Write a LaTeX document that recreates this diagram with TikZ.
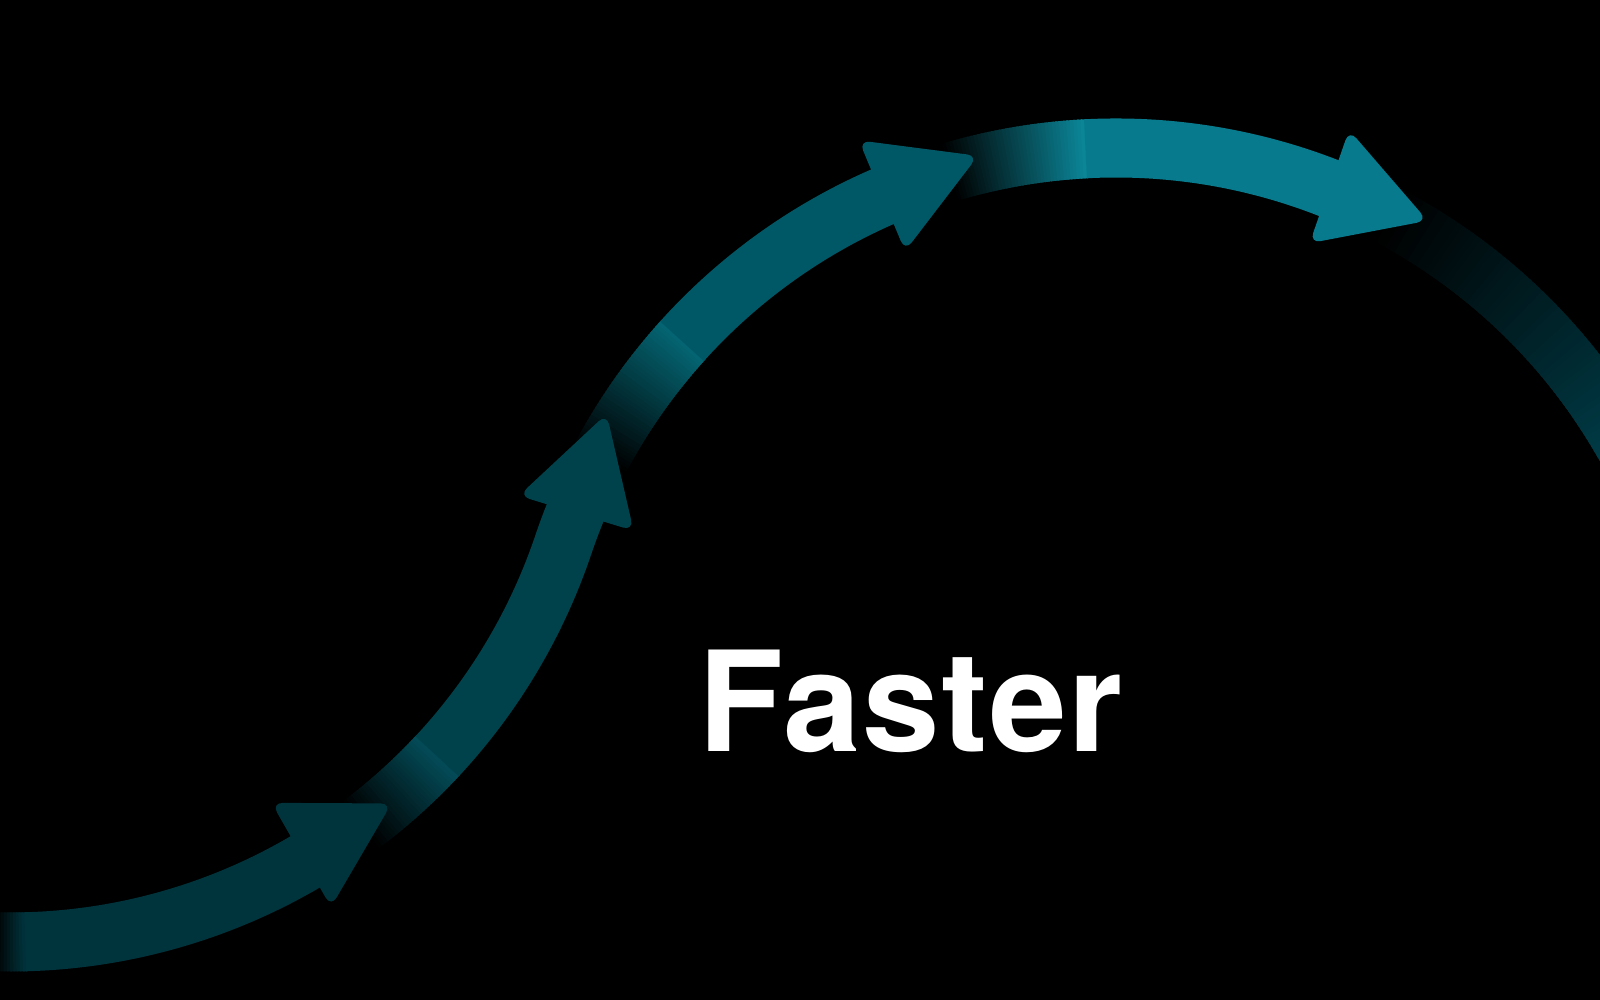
\documentclass[tikz,border=0pt]{standalone}
\usepackage{fontspec}
\setmainfont{TeX Gyre Heros}
\definecolor{segA}{HTML}{00343D}
\definecolor{segB}{HTML}{00424C}
\definecolor{segBhi}{HTML}{034C58}
\definecolor{segC}{HTML}{005866}
\definecolor{segChi}{HTML}{046573}
\definecolor{segD}{HTML}{077B8D}
\definecolor{segDhi}{HTML}{0B8799}
\definecolor{segE}{HTML}{003A45}
\def\R{584}
\newcommand{\fadeseg}[5]{%
  \foreach \ii in {1,...,#5}{%
    \pgfmathsetmacro\aa{#2+(#3-#2)*(\ii-1)/#5}%
    \pgfmathsetmacro\bb{#2+(#3-#2)*(\ii+0.6)/#5}%
    \pgfmathtruncatemacro\pp{round(100*(\ii-0.5)/#5)}%
    \draw[shaft, color=#4!\pp!black] (#1) ++(\aa:\R) arc[start angle=\aa, end angle=\bb, radius=\R];
  }}
\begin{document}
\begin{tikzpicture}[x=0.01cm,y=0.01cm,
  shaft/.style={line width=0.59cm, line cap=butt},
  head/.style={rounded corners=0.11cm}]
\useasboundingbox (0,0) rectangle (1600,1000);
\fill[black] (0,0) rectangle (1600,1000);
\clip (0,0) rectangle (1600,1000);
\coordinate (C1) at (10,642);
\coordinate (C2) at (1116,268);
% segment 1
\fadeseg{C1}{-91.5}{-88.5}{segA}{10}
\draw[shaft, segA] (C1) ++(-88.5:\R) arc[start angle=-88.5, end angle=-56, radius=\R];
% segment 2
\fadeseg{C1}{-53}{-43}{segBhi}{30}
\draw[shaft, segB] (C1) ++(-43:\R) arc[start angle=-43, end angle=-18.68, radius=\R]
  arc[start angle=161.32, end angle=155, radius=\R];
% segment 3
\fadeseg{C2}{152}{138}{segChi}{40}
\draw[shaft, segC] (C2) ++(138:\R) arc[start angle=138, end angle=111, radius=\R];
% segment 4
\fadeseg{C2}{106.5}{93}{segDhi}{40}
\draw[shaft, segD] (C2) ++(93:\R) arc[start angle=93, end angle=66, radius=\R];
% segment 5
\fadeseg{C2}{62}{30}{segE}{60}
\draw[shaft, segE] (C2) ++(30:\R) arc[start angle=30, end angle=20, radius=\R];
% arrowheads
\fill[segA, head, shift={(306.5,148)}, rotate=29.7] (-6,-60) -- (98,0) -- (-6,60) -- cycle;
\fill[segB, head, shift={(578,492.5)}, rotate=73] (-6,-60) -- (98,0) -- (-6,60) -- cycle;
\fill[segC, head, shift={(887.5,806.5)}, rotate=22.6] (-6,-60) -- (98,0) -- (-6,60) -- cycle;
\fill[segD, head, shift={(1335,811.5)}, rotate=-19.2] (-6,-60) -- (98,0) -- (-6,60) -- cycle;
% title
\node[anchor=base west, inner sep=0pt, text=white, font=\fontsize{39.6}{42}\selectfont\bfseries\addfontfeature{LetterSpace=1.4}] (title) at (697.4,248.3) {Faster};
\end{tikzpicture}
\end{document}
